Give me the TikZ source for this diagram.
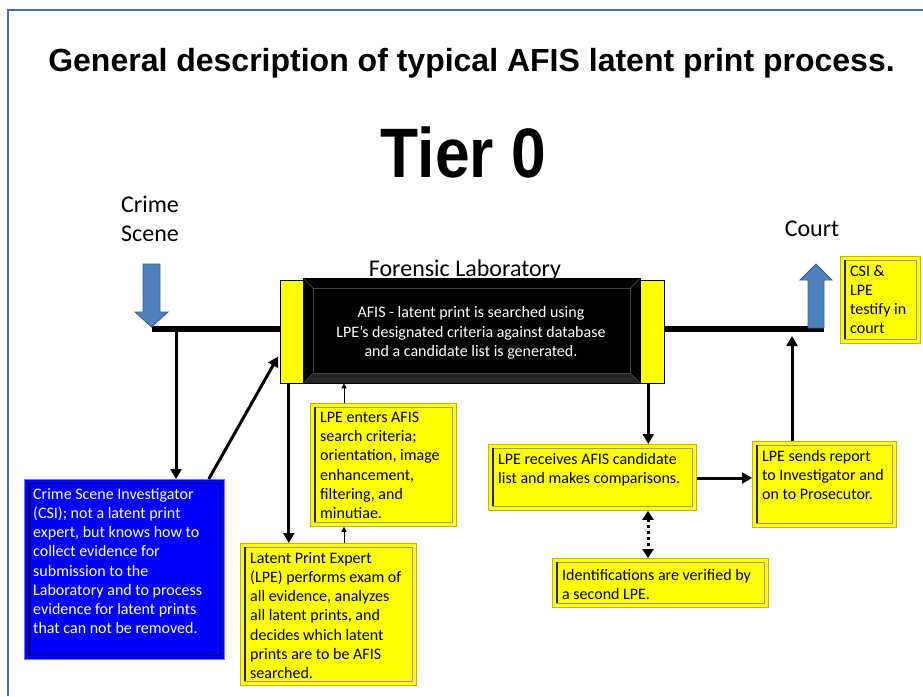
\documentclass[tikz,border=0pt]{standalone}
\usepackage{fontspec}
\setmainfont{Carlito}
\newfontfamily\arialf{Liberation Sans}
\usetikzlibrary{arrows.meta,calc}
\definecolor{frameblue}{HTML}{4A6FA5}
\definecolor{arrblue}{HTML}{4F81BD}
\definecolor{arredge}{HTML}{3A5F8F}
\definecolor{boxyellow}{HTML}{FFFF00}
\definecolor{boxblue}{HTML}{0000FF}
\begin{document}
\begin{tikzpicture}[x=1pt,y=-1pt,
  yb/.style={fill=boxyellow, draw=olive!55!yellow, line width=0.8pt, inner sep=0pt, anchor=north west,
    path picture={\draw[black!40,line width=0.6pt] ([xshift=4pt,yshift=-4pt]path picture bounding box.north west) rectangle ([xshift=-4pt,yshift=4pt]path picture bounding box.south east);
      \draw[black!85,line width=1.3pt] ([xshift=4.5pt,yshift=-4pt]path picture bounding box.north west) -- ([xshift=4.5pt,yshift=4pt]path picture bounding box.south west);}},
  bb/.style={fill=boxblue, draw=blue!55!white, line width=0.8pt, inner sep=0pt, anchor=north west,
    path picture={\draw[blue!45!black,line width=0.8pt] ([xshift=4pt,yshift=-4pt]path picture bounding box.north west) rectangle ([xshift=-4pt,yshift=4pt]path picture bounding box.south east);
      \draw[blue!30!black,line width=1.3pt] ([xshift=4.5pt,yshift=-4pt]path picture bounding box.north west) -- ([xshift=4.5pt,yshift=4pt]path picture bounding box.south west);}},
  btext/.style={anchor=north west, inner sep=0pt, align=left, font=\fontsize{16}{19.2}\selectfont, execute at begin node={\rule{0pt}{11.5pt}}},
  bar/.style={fill=boxyellow, draw=black, line width=0.6pt, inner sep=0pt, anchor=north west},
  label/.style={font=\fontsize{24}{29}\selectfont, align=center, inner sep=0pt},
  arr/.style={line width=3pt, -{Triangle[width=11pt,length=10pt]}},
  tarr/.style={line width=1pt, -{Triangle[width=5pt,length=5pt]}},
  darr/.style={line width=3pt, dash pattern=on 3pt off 3pt, {Triangle[width=11pt,length=9pt]}-{Triangle[width=11pt,length=9pt]}},
  barline/.style={line width=6pt},
  blockarrow/.style={fill=arrblue, draw=arredge, line width=0.8pt}
]
\useasboundingbox (0,0) rectangle (923,696);
\fill[white] (0,0) rectangle (923,696);
\draw[frameblue, line width=2.2pt] (8,696) -- (8,10) -- (923,10);

% titles
\node[anchor=base, inner sep=0pt, font=\arialf\bfseries\fontsize{32}{38}\selectfont] (title) at (471.5,71) {General description of typical AFIS latent print process.};
\node[anchor=base, inner sep=0pt, font=\arialf\bfseries\fontsize{70}{80}\selectfont] (tier) at (463.5,177) {\scalebox{0.89}[1]{Tier 0}};

% labels
\node[label, anchor=base] (crime) at (150,241) {Crime\\Scene};
\node[label, anchor=base] (forlab) at (465,276) {Forensic Laboratory};
\node[label, anchor=base] (court) at (812,236) {Court};

% laboratory
\node[minimum width=337pt, minimum height=105pt, fill=black, draw=black, inner sep=0pt, anchor=north west,
  path picture={
    \fill[black!85] ([xshift=10pt,yshift=10pt]path picture bounding box.south west) -- ([xshift=-10pt,yshift=10pt]path picture bounding box.south east) -- (path picture bounding box.south east) -- (path picture bounding box.south west) -- cycle;
    \draw[black!75,line width=0.5pt] ([xshift=10pt,yshift=-10pt]path picture bounding box.north west) rectangle ([xshift=-10pt,yshift=10pt]path picture bounding box.south east);
    \draw[black!70,line width=0.5pt] (path picture bounding box.north west) -- ++(10pt,-10pt);
    \draw[black!70,line width=0.5pt] (path picture bounding box.north east) -- ++(-10pt,-10pt);
    \draw[black!70,line width=0.5pt] (path picture bounding box.south west) -- ++(10pt,10pt);
    \draw[black!70,line width=0.5pt] (path picture bounding box.south east) -- ++(-10pt,10pt);
  }] (lab) at (303,278) {};
\node[text=white, align=center, inner sep=0pt, font=\fontsize{16}{19.5}\selectfont] (labtext) at (471,333)
  {AFIS - latent print is searched using\\LPE’s designated criteria against database\\and a candidate list is generated.};
\node[bar, minimum width=23pt, minimum height=103pt] (labL) at (280,280) {};
\node[bar, minimum width=24pt, minimum height=103pt] (labR) at (640,280) {};

% main horizontal lines
\coordinate (lstart) at (152,329);
\coordinate (rend) at (824,329);
\draw[barline] (lstart) -- (lstart -| labL.west);
\draw[barline] (labR.east |- rend) -- (rend);

% block arrows
\draw[blockarrow] (143,264) -- (160,264) -- (160,312) -- (168,312) -- (151.5,327) -- (135,312) -- (143,312) -- cycle;
\draw[blockarrow] (808,328) -- (824,328) -- (824,280) -- (832,280) -- (816,264) -- (800,280) -- (808,280) -- cycle;

% boxes
\node[bb, minimum width=200pt, minimum height=180pt] (csi) at (24,479) {};
\node[btext, text=white] (csit) at ([xshift=9pt,yshift=-9pt]csi.north west)
  {Crime Scene Investigator\\(CSI); not a latent print\\expert, but knows how to\\collect evidence for\\submission to the\\Laboratory and to process\\evidence for latent prints\\that can not be removed.};

\node[yb, minimum width=146pt, minimum height=123pt] (enters) at (310,403) {};
\node[btext] (enterst) at ([xshift=10pt,yshift=-9pt]enters.north west)
  {LPE enters AFIS\\search criteria;\\orientation, image\\enhancement,\\filtering, and\\minutiae.};

\node[yb, minimum width=176pt, minimum height=142pt] (lpe) at (240,543) {};
\node[btext] (lpet) at ([xshift=10pt,yshift=-9pt]lpe.north west)
  {Latent Print Expert\\(LPE) performs exam of\\all evidence, analyzes\\all latent prints, and\\decides which latent\\prints are to be AFIS\\searched.};

\node[yb, minimum width=208pt, minimum height=66pt] (rec) at (488,444) {};
\node[btext] (rect) at ([xshift=10pt,yshift=-9pt]rec.north west)
  {LPE receives AFIS candidate\\list and makes comparisons.};

\node[yb, minimum width=144pt, minimum height=86pt] (sends) at (752,441) {};
\node[btext] (sendst) at ([xshift=10pt,yshift=-9pt]sends.north west)
  {LPE sends report\\to Investigator and\\on to Prosecutor.};

\node[yb, minimum width=216pt, minimum height=49pt] (ident) at (552,558) {};
\node[btext] (identt) at ([xshift=10pt,yshift=-11pt]ident.north west)
  {Identifications are verified by\\a second LPE.};

\node[yb, minimum width=80pt, minimum height=87pt] (testify) at (840,256) {};
\node[btext] (testifyt) at ([xshift=10pt,yshift=-9pt]testify.north west)
  {CSI \&\\LPE\\testify in\\court};

% connectors
\coordinate (csdrop) at (176,329);
\draw[arr] (csdrop) -- (csdrop |- csi.north);
\draw[arr] ([xshift=-16pt]csi.north east) -- ([xshift=-2pt,yshift=27pt]labL.south west);
\draw[arr] ([xshift=-3pt]labL.south) -- ([xshift=-3pt]labL.south |- lpe.north);
\coordinate (entersx) at ($(enters.north west)+(34,0)$);
\draw[tarr] (entersx) -- (entersx |- lab.south);
\coordinate (lpex) at ($(lpe.north west)+(104,0)$);
\draw[tarr] (lpex) -- (lpex |- enters.south);
\draw[arr] ([xshift=-4pt]labR.south) -- ([xshift=-4pt]labR.south |- rec.north);
\draw[arr] (rec.east |- 0,478) -- (sends.west |- 0,478);
\coordinate (sendx) at ($(sends.north west)+(40,0)$);
\draw[arr] (sendx) -- ($(sendx |- rend)+(0,7)$);
\coordinate (recx) at ($(rec.south west)+(160,0)$);
\draw[darr] (recx) -- (recx |- ident.north);
\end{tikzpicture}
\end{document}
